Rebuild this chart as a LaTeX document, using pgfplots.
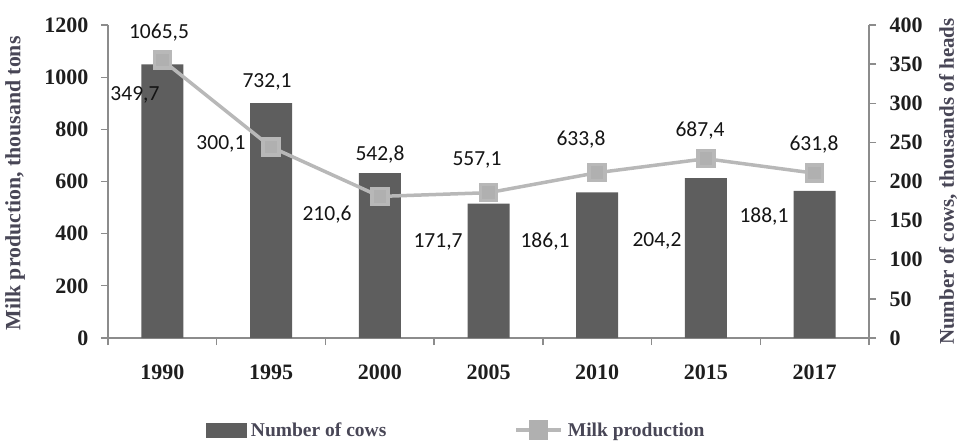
\documentclass[border=0pt]{standalone}
\usepackage{fontspec}
\setmainfont{Liberation Serif}
\newfontfamily\labelfont{Carlito}
\usepackage{pgfplots}
\usepackage{pgfplotstable}
\pgfplotsset{compat=1.18}

\definecolor{cowbar}{RGB}{94,94,94}
\definecolor{milkline}{RGB}{184,184,184}
\definecolor{milkmark}{RGB}{176,176,176}
\definecolor{axisgray}{RGB}{140,140,140}
\definecolor{titlegray}{RGB}{72,70,86}
\definecolor{tickblack}{RGB}{30,30,30}
\definecolor{valblack}{RGB}{20,20,20}

% x = category index (1990, 1995, ..., 2017)
\pgfplotstableread{
x cows milk
0 349.7 1065.5
1 300.1 732.1
2 210.6 542.8
3 171.7 557.1
4 186.1 633.8
5 204.2 687.4
6 188.1 631.8
}\maindata

% value labels, placed in the milk-axis units (0--1200)
\pgfplotstableread{
x y label
-0.252 932 349,7
0.539 744 300,1
1.515 472 210,6
2.536 368 171,7
3.520 368 186,1
4.550 372 204,2
5.534 464 188,1
}\cowlabels

\pgfplotstableread{
x y label
-0.031 1169 1065,5
0.963 981 732,1
2.002 702 542,8
2.894 682 557,1
3.851 759 633,8
4.946 797 687,4
5.994 740 631,8
}\milklabels

\pgfplotsset{
  base/.style={
    at={(0pt,0pt)}, anchor=south west,
    scale only axis, width=761pt, height=313pt,
    xmin=-0.5, xmax=6.5,
    clip=false,
    tick align=outside,
    axis line style={draw=axisgray, line width=1.3pt, -},
    every outer x axis line/.append style={-},
    every outer y axis line/.append style={-},
    major tick length=7pt,
    minor tick length=7pt,
    tick style={draw=axisgray, line width=1.3pt},
    /pgf/number format/assume math mode=true,
    /pgf/number format/1000 sep={},
    tick label style={font=\bfseries\fontsize{22}{24}\selectfont, text=tickblack},
    label style={font=\bfseries\fontsize{21}{23}\selectfont, text=titlegray},
  },
  labelplot/.style={
    draw=none, no markers, forget plot,
    nodes near coords, point meta=explicit symbolic,
    every node near coord/.append style={anchor=center, inner sep=0pt,
      font=\labelfont\fontsize{21.5}{23}\selectfont, text=valblack},
  },
}

\begin{document}
\begin{tikzpicture}
\useasboundingbox (-108pt,-102pt) rectangle (849pt,338pt);

% number of cows: bars on the right axis
\begin{axis}[base,
    ymin=0, ymax=400, ytick={0,50,...,400},
    axis y line*=right, axis x line*=bottom,
    xtick={0,...,6},
    xticklabels={1990,1995,2000,2005,2010,2015,2017},
    xticklabel style={yshift=-16pt},
    yticklabel style={xshift=10pt},
    major x tick style={draw=none},
    minor xtick={-0.5,0.5,...,6.5},
    ylabel={Number of cows, thousands of heads},
    y label style={at={(axis description cs:1.104,0.5)}, anchor=center},
  ]
  \addplot[ybar, bar width=42pt, fill=cowbar, draw=none]
    table[x=x, y=cows] {\maindata};
\end{axis}

% milk production: line on the left axis
\begin{axis}[base,
    ymin=0, ymax=1200, ytick={0,200,...,1200},
    axis y line*=left, axis x line=none,
    yticklabel style={xshift=-9pt},
    ylabel={Milk production, thousand tons},
    y label style={at={(axis description cs:-0.122,0.494)}, anchor=center,
      font=\bfseries\fontsize{21.8}{23}\selectfont},
    legend columns=2,
    legend style={at={(axis description cs:0.4574,-0.294)}, anchor=center,
      draw=none, fill=none,
      font=\bfseries\fontsize{19.5}{21}\selectfont, text=titlegray,
      /tikz/every odd column/.append style={column sep=3pt},
      /tikz/every even column/.append style={column sep=126pt}},
  ]
  \addlegendimage{legend image code/.code={
      \fill[cowbar] (0pt,-7pt) rectangle (40pt,7pt);}}
  \addlegendentry{Number of cows}
  \addplot[milkline, line width=3.5pt, mark=square*, mark size=8pt,
      mark options={fill=milkmark, draw=none},
      legend image code/.code={
        \draw[milkline, line width=3.5pt] (0pt,0pt) -- (45pt,0pt);
        \fill[milkmark] (14.5pt,-8pt) rectangle (30.5pt,8pt);}]
    table[x=x, y=milk] {\maindata};
  \addlegendentry{Milk production}

  \addplot[labelplot] table[x=x, y=y, meta=label] {\cowlabels};
  \addplot[labelplot] table[x=x, y=y, meta=label] {\milklabels};
\end{axis}
\end{tikzpicture}
\end{document}
